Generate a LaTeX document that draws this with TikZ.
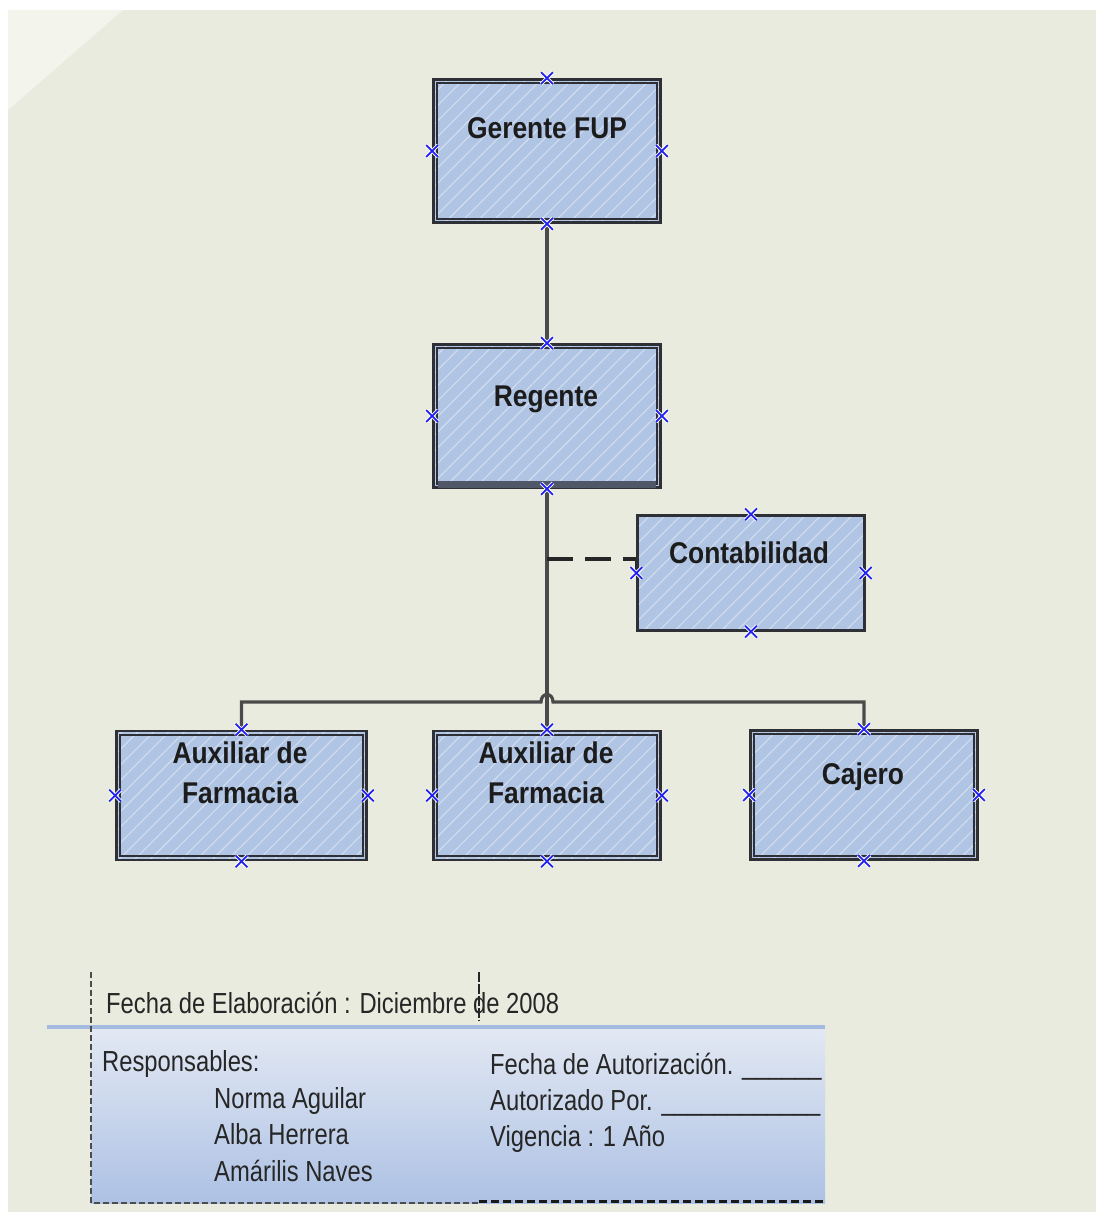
\documentclass[tikz,border=0pt]{standalone}
\usepackage{fontspec}
\setmainfont{Liberation Sans}
\newfontfamily\boxfont{Liberation Sans}[FakeStretch=0.88]
\newfontfamily\footfont{Liberation Sans}[FakeStretch=0.82]
\usetikzlibrary{patterns.meta,shapes.misc}
\definecolor{bgc}{HTML}{EAEBDF}
\definecolor{bgl}{HTML}{F3F4EC}
\definecolor{boxblue}{HTML}{B0C4E4}
\definecolor{hatch}{HTML}{D3DDF0}
\definecolor{boxline}{HTML}{2E3036}
\definecolor{connc}{HTML}{4A4A4A}
\definecolor{cpblue}{HTML}{2222EE}
\definecolor{labtext}{HTML}{1C1C1C}
\definecolor{foottext}{HTML}{262626}
\definecolor{gradtop}{HTML}{E2E8F3}
\definecolor{gradbot}{HTML}{ADC1E4}
\definecolor{footline}{HTML}{A5BAE0}
\definecolor{shadowc}{HTML}{505868}
\tikzset{
  orgbox/.style={preaction={fill=boxblue},
    pattern={Lines[distance=11pt,angle=45,line width=1.1pt]}, pattern color=hatch,
    draw=boxline, line width=2.6pt, inner sep=0pt},
  innerline/.style={draw=boxline, line width=2pt},
  boxlabel/.style={font=\boxfont\bfseries\fontsize{30}{40}\selectfont, text=labtext, align=center, inner sep=0pt},
  footlabel/.style={font=\footfont\fontsize{29}{36}\selectfont, text=foottext, inner sep=0pt, anchor=base west},
  conn/.style={draw=connc, line width=3.2pt},
  dashconn/.style={draw=black!85, line width=3.2pt, dash pattern=on 26pt off 12pt},
  cpx/.style={cross out, draw=cpblue, line width=1.8pt, minimum size=10pt, inner sep=0pt,
    preaction={draw=white, line width=3.5pt}},
  thindash/.style={draw=black!70, line width=1.3pt, dash pattern=on 6pt off 3pt},
  thickdash/.style={draw=black!90, line width=3pt, dash pattern=on 8pt off 4pt}
}
\begin{document}
\begin{tikzpicture}[x=1pt,y=-1pt]
\useasboundingbox (0,0) rectangle (1096,1212);
\fill[white] (0,0) rectangle (1096,1212);
\fill[bgc] (8,10) rectangle (1096,1212);
\fill[bgl] (8,10) -- (123,10) -- (8,110) -- cycle;

% connector helper points
\coordinate (hl) at (541,702);
\coordinate (hr) at (553,702);
\coordinate (dj) at (547,559);
\coordinate (dk) at (637,559);

% boxes
\node[orgbox, minimum width=227pt, minimum height=143pt] (ger) at (547,151) {};
\node[orgbox, minimum width=227pt, minimum height=143pt] (reg) at (547,416) {};
\node[orgbox, minimum width=250pt, minimum height=129pt] (aux1) at (241.5,795.5) {};
\node[orgbox, minimum width=227pt, minimum height=129pt] (aux2) at (547,795.5) {};
\node[orgbox, minimum width=227pt, minimum height=129pt] (caj) at (864,795) {};

\draw[conn] (ger.south) -- (reg.north);
\draw[conn] (reg.south) -- (aux2.north);
\draw[conn] (aux1.north) |- (hl) .. controls (541,692) and (553,692) .. (hr) -| (caj.north);
\draw[dashconn] (dj) -- (dk) -- (637,573);

\node[orgbox, line width=2.4pt, minimum width=227pt, minimum height=115pt] (con) at (751,573) {};

\foreach \n in {ger,reg,aux1,aux2,caj}{
  \draw[innerline] ([shift={(5,5)}]\n.north west) rectangle ([shift={(-5,-5)}]\n.south east);
}
\fill[shadowc] ([shift={(6,-8)}]reg.south west) rectangle ([shift={(-6,-1)}]reg.south east);

% labels
\node[boxlabel, anchor=base] (gert) at (547,139) {Gerente FUP};
\node[boxlabel, anchor=base] (regt) at (546,406) {Regente};
\node[boxlabel, anchor=base] (cont) at (749,563) {Contabilidad};
\node[boxlabel] (aux1t) at (240,773) {Auxiliar de\\Farmacia};
\node[boxlabel] (aux2t) at (546,773) {Auxiliar de\\Farmacia};
\node[boxlabel, anchor=base] (cajt) at (863,784) {Cajero};

% connection points
\foreach \n in {ger,reg,con,aux1,aux2,caj}{
  \foreach \a in {north,south,east,west}{
    \node[cpx] (\n-\a) at (\n.\a) {};
  }
}

% footer
\shade[top color=gradtop, bottom color=gradbot] (91,1029) rectangle (825,1203);
\draw[footline, line width=4pt] (47,1027) -- (825,1027);
\draw[thindash] (91,972) -- (91,1203) -- (479,1203);
\draw[draw=black!85, line width=1.6pt, dash pattern=on 10pt off 2pt] (479,972) -- (479,1021);
\draw[thickdash] (479,1201) -- (825,1201);

\node[footlabel] (fe) at (106,1013) {Fecha de Elaboración : Diciembre de 2008};
\node[footlabel] (resp) at (102,1071) {Responsables:};
\node[footlabel] (n1) at (214,1108) {Norma Aguilar};
\node[footlabel] (n2) at (214,1144) {Alba Herrera};
\node[footlabel] (n3) at (214,1181) {Amárilis Naves};
\node[footlabel] (fa) at (490,1074) {Fecha de Autorización. \_\_\_\_\_\_};
\node[footlabel] (ap) at (490,1110) {Autorizado Por. \_\_\_\_\_\_\_\_\_\_\_\_};
\node[footlabel] (vi) at (490,1146) {Vigencia : 1 Año};
\end{tikzpicture}
\end{document}
